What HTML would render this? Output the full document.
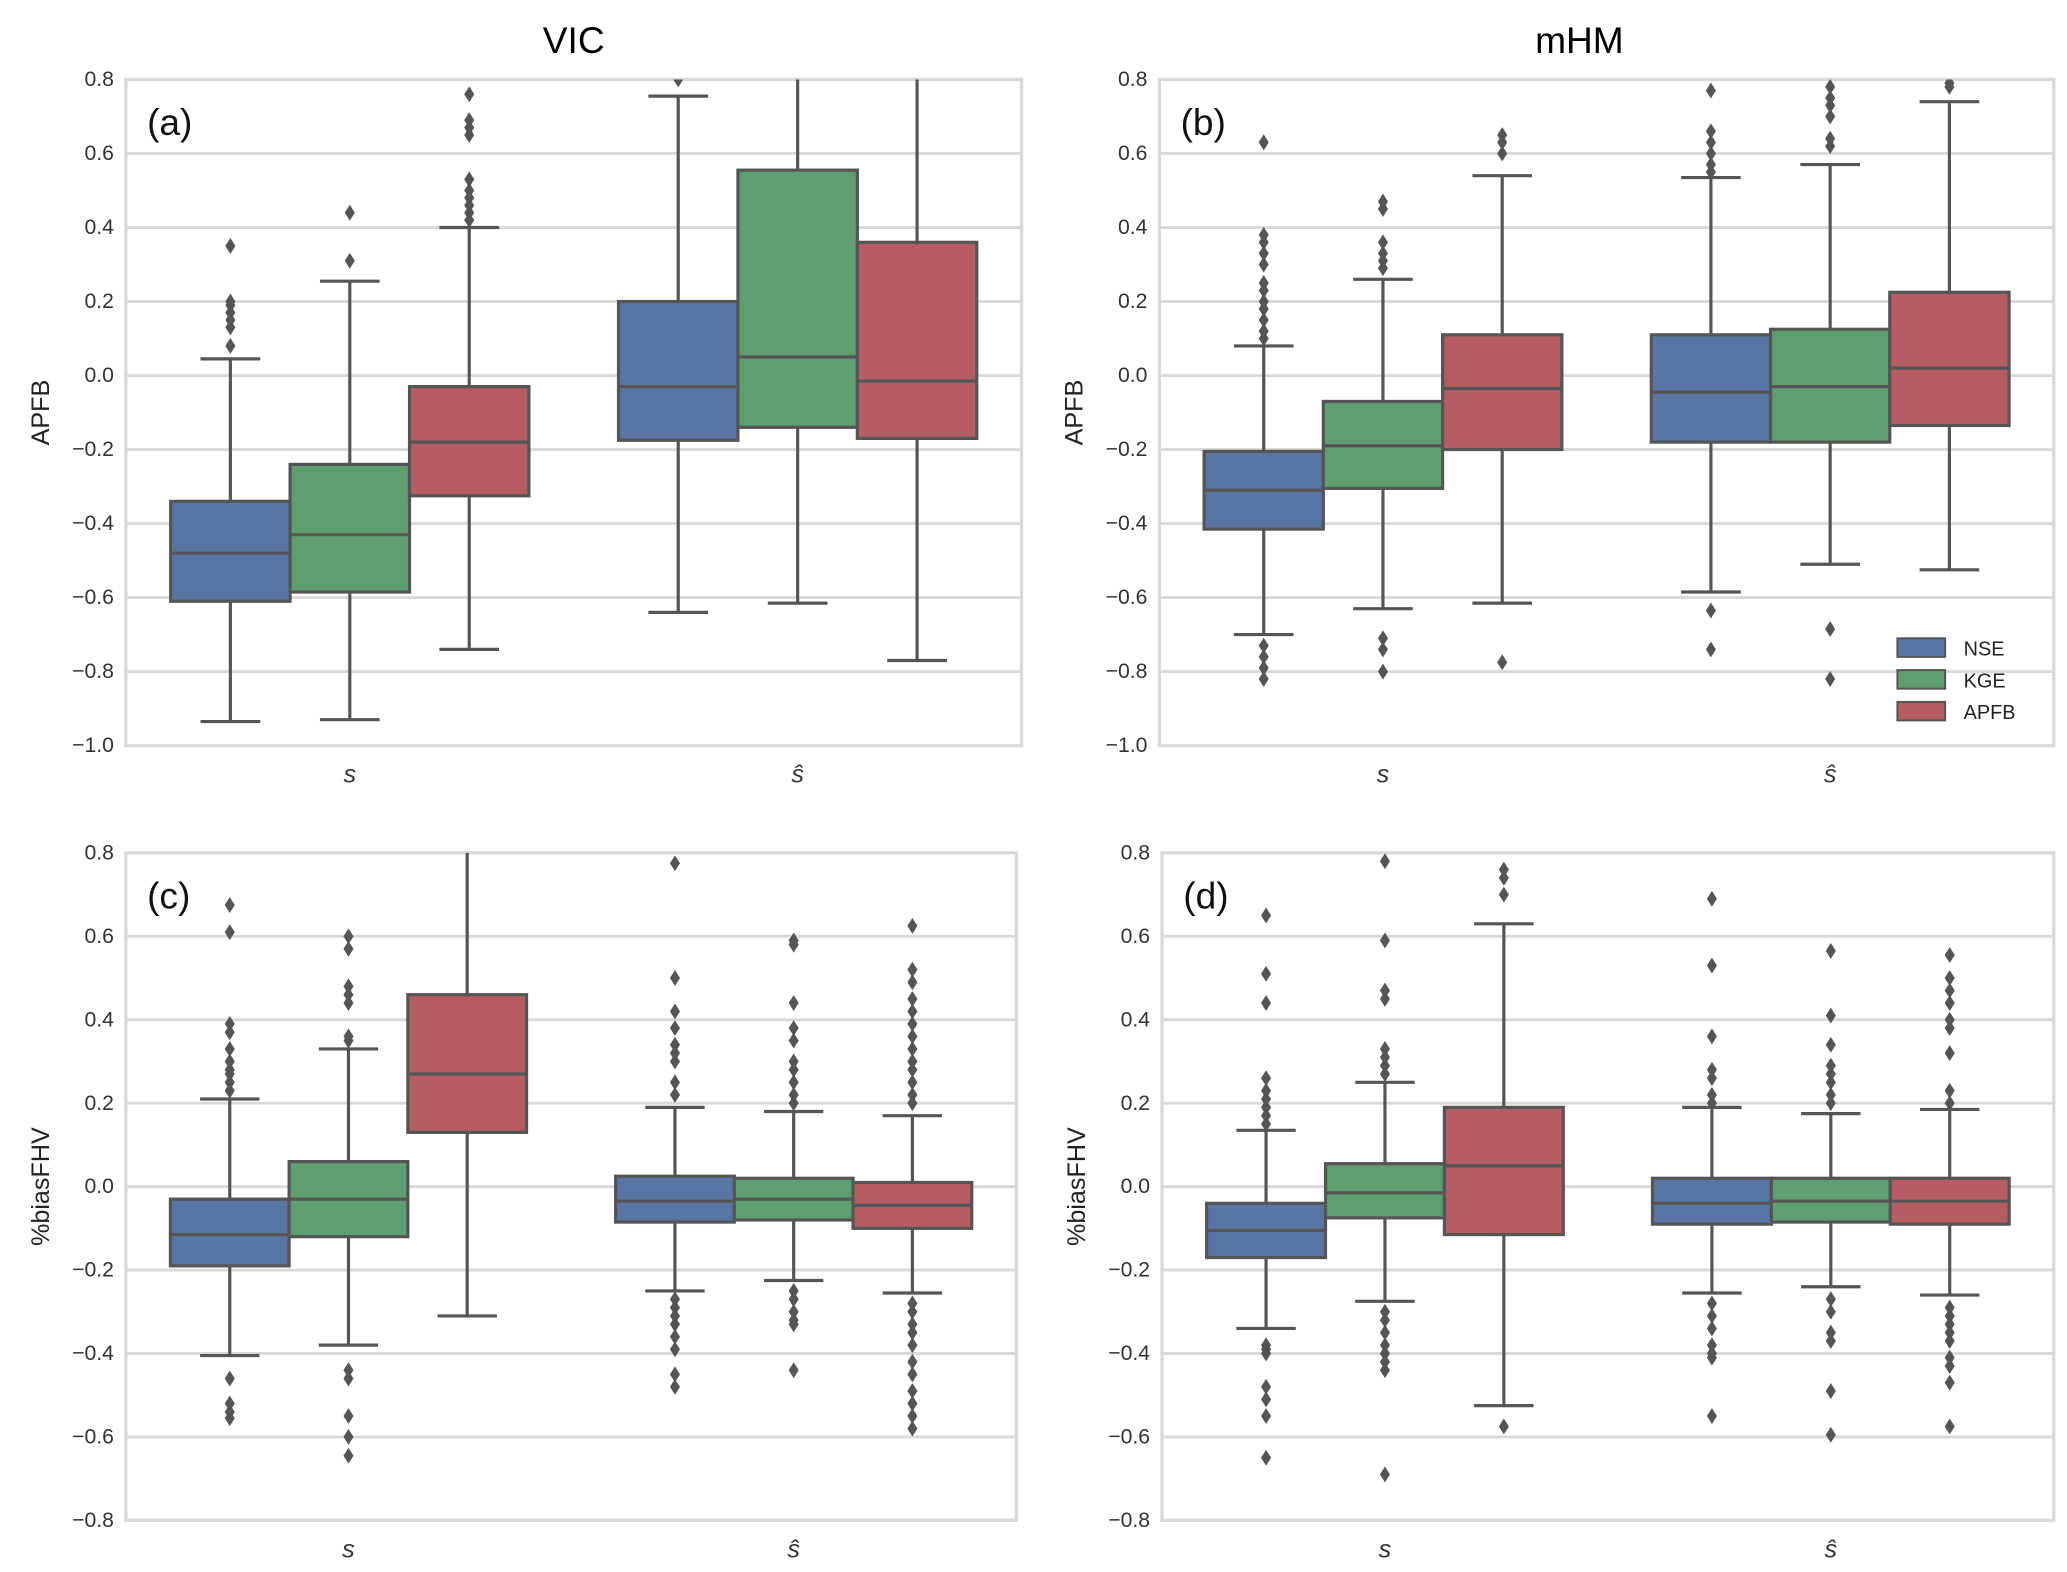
<!DOCTYPE html>
<html><head><meta charset="utf-8"><style>
html,body{margin:0;padding:0;background:#fff}
svg{display:block;font-family:"Liberation Sans",sans-serif}
</style></head><body>
<svg id="fig" width="2067" height="1572" viewBox="0 0 1560 1187" preserveAspectRatio="none">
<text x="433" y="40" font-size="28" text-anchor="middle">VIC</text>
<text x="1192" y="40" font-size="28" text-anchor="middle">mHM</text>
</svg>
<script>
// order of boxes: [s-NSE, s-KGE, s-APFB, ŝ-NSE, ŝ-KGE, ŝ-APFB]
const categories = ["s", "ŝ"];
const seriesNames = ["NSE", "KGE", "APFB"];
const yTicksTop = [0.8,0.6,0.4,0.2,0.0,-0.2,-0.4,-0.6,-0.8,-1.0];
const yTickLabelsTop = ["0.8","0.6","0.4","0.2","0.0","\u22120.2","\u22120.4","\u22120.6","\u22120.8","\u22121.0"];
const yTicksBottom = [0.8,0.6,0.4,0.2,0.0,-0.2,-0.4,-0.6,-0.8];
const yTickLabelsBottom = ["0.8","0.6","0.4","0.2","0.0","\u22120.2","\u22120.4","\u22120.6","\u22120.8"];

const aQ1 = [-0.61,-0.585,-0.325,-0.175,-0.14,-0.17];
const aMed = [-0.48,-0.43,-0.18,-0.03,0.05,-0.015];
const aQ3 = [-0.34,-0.24,-0.03,0.2,0.555,0.36];
const aLo = [-0.935,-0.93,-0.74,-0.64,-0.615,-0.77];
const aHi = [0.045,0.255,0.40,0.755,0.9,0.9];
const aOut = [[0.08,0.13,0.15,0.17,0.19,0.2,0.35],[0.31,0.44],[0.42,0.44,0.46,0.48,0.5,0.53,0.65,0.67,0.69,0.76],[0.8],[],[]];

const bQ1 = [-0.415,-0.305,-0.2,-0.18,-0.18,-0.135];
const bMed = [-0.31,-0.19,-0.035,-0.045,-0.03,0.02];
const bQ3 = [-0.205,-0.07,0.11,0.11,0.125,0.225];
const bLo = [-0.7,-0.63,-0.615,-0.585,-0.51,-0.525];
const bHi = [0.08,0.26,0.54,0.535,0.57,0.74];
const bOut = [[0.1,0.12,0.15,0.18,0.2,0.23,0.25,0.3,0.33,0.36,0.38,0.63,-0.73,-0.76,-0.79,-0.82],[0.29,0.31,0.33,0.36,0.45,0.47,-0.71,-0.74,-0.8],[0.6,0.63,0.65,-0.775],[0.55,0.57,0.6,0.63,0.66,0.77,-0.635,-0.74],[0.62,0.64,0.7,0.73,0.75,0.78,-0.685,-0.82],[0.78,0.79]];

const cQ1 = [-0.19,-0.12,0.13,-0.085,-0.08,-0.1];
const cMed = [-0.115,-0.03,0.27,-0.035,-0.03,-0.045];
const cQ3 = [-0.03,0.06,0.46,0.025,0.02,0.01];
const cLo = [-0.405,-0.38,-0.31,-0.25,-0.225,-0.255];
const cHi = [0.21,0.33,0.85,0.19,0.18,0.17];
const cOut = [[0.23,0.25,0.27,0.28,0.3,0.33,0.37,0.39,0.61,0.675,-0.46,-0.52,-0.54,-0.555],[0.35,0.36,0.44,0.46,0.48,0.57,0.6,-0.44,-0.46,-0.55,-0.6,-0.645],[],[0.22,0.25,0.3,0.32,0.34,0.38,0.42,0.5,0.775,-0.27,-0.29,-0.31,-0.33,-0.36,-0.39,-0.45,-0.48],[0.2,0.22,0.25,0.28,0.3,0.35,0.38,0.44,0.58,0.59,-0.25,-0.27,-0.3,-0.32,-0.33,-0.44],[0.2,0.22,0.25,0.28,0.3,0.33,0.36,0.39,0.42,0.45,0.49,0.52,0.625,-0.28,-0.3,-0.33,-0.35,-0.38,-0.42,-0.45,-0.49,-0.52,-0.55,-0.58]];

const dQ1 = [-0.17,-0.075,-0.115,-0.09,-0.085,-0.09];
const dMed = [-0.105,-0.015,0.05,-0.04,-0.035,-0.035];
const dQ3 = [-0.04,0.055,0.19,0.02,0.02,0.02];
const dLo = [-0.34,-0.275,-0.525,-0.255,-0.24,-0.26];
const dHi = [0.135,0.25,0.63,0.19,0.175,0.185];
const dOut = [[0.15,0.17,0.19,0.21,0.23,0.26,0.44,0.51,0.65,-0.38,-0.39,-0.4,-0.48,-0.51,-0.55,-0.65],[0.27,0.29,0.31,0.33,0.45,0.47,0.59,0.78,-0.3,-0.32,-0.35,-0.38,-0.4,-0.42,-0.44,-0.69],[0.7,0.74,0.76,-0.575],[0.2,0.22,0.26,0.28,0.36,0.53,0.69,-0.28,-0.31,-0.34,-0.38,-0.4,-0.41,-0.55],[0.2,0.22,0.25,0.27,0.29,0.34,0.41,0.565,-0.27,-0.3,-0.35,-0.37,-0.49,-0.595],[0.2,0.23,0.32,0.38,0.4,0.44,0.47,0.5,0.555,-0.29,-0.31,-0.33,-0.35,-0.37,-0.41,-0.43,-0.47,-0.575]];

const colors = ["#5875a4","#5f9e6e","#b55d60"];
const NS = "http://www.w3.org/2000/svg";
const svg = document.getElementById("fig");
function mk(tag, attrs, parent){const e=document.createElementNS(NS,tag);for(const k in attrs)e.setAttribute(k,attrs[k]);(parent||svg).appendChild(e);return e;}

const panels = [
 {id:"a",x0:95,x1:771,yTop:60,yBot:563,vmax:0.8,vmin:-1.0,ticks:yTicksTop,labels:yTickLabelsTop,ylab:"APFB",q1:aQ1,med:aMed,q3:aQ3,lo:aLo,hi:aHi,out:aOut,legend:false},
 {id:"b",x0:875,x1:1550,yTop:60,yBot:563,vmax:0.8,vmin:-1.0,ticks:yTicksTop,labels:yTickLabelsTop,ylab:"APFB",q1:bQ1,med:bMed,q3:bQ3,lo:bLo,hi:bHi,out:bOut,legend:true},
 {id:"c",x0:95,x1:767,yTop:644,yBot:1148,vmax:0.8,vmin:-0.8,ticks:yTicksBottom,labels:yTickLabelsBottom,ylab:"%biasFHV",q1:cQ1,med:cMed,q3:cQ3,lo:cLo,hi:cHi,out:cOut,legend:false},
 {id:"d",x0:877,x1:1550,yTop:644,yBot:1148,vmax:0.8,vmin:-0.8,ticks:yTicksBottom,labels:yTickLabelsBottom,ylab:"%biasFHV",q1:dQ1,med:dMed,q3:dQ3,lo:dLo,hi:dHi,out:dOut,legend:false}
];

panels.forEach(p=>{
  const g = mk("g",{});
  
  
  const cid = "clip-"+p.id;
  const cp = mk("clipPath",{id:cid},g);
  mk("rect",{x:p.x0,y:p.yTop,width:p.x1-p.x0,height:p.yBot-p.yTop},cp);
  const y = v => p.yTop + (p.vmax - v)/(p.vmax - p.vmin)*(p.yBot-p.yTop);
  const band = (p.x1-p.x0)/categories.length;
  const bw = band*0.8/3;
  const bx = i => p.x0 + band*(Math.floor(i/3)+0.5) + bw*((i%3)-1.5);
  p.ticks.forEach((t,k)=>{
    const gl = mk("line",{x1:p.x0,x2:p.x1,y1:y(t),y2:y(t),stroke:"#d9d9d9","stroke-width":2.2},g);
    
    
    const tl = mk("text",{x:p.x0-9,y:y(t)+5,"font-size":16,"text-anchor":"end",fill:"#333"},g);
    tl.textContent = p.labels[k];
    
    
  });
  const frame = mk("rect",{x:p.x0,y:p.yTop,width:p.x1-p.x0,height:p.yBot-p.yTop,fill:"none",stroke:"#d9d9d9","stroke-width":2.5},g);
  
  
  const inner = mk("g",{"clip-path":"url(#"+cid+")"},g);
  for(let i=0;i<6;i++){
    const x=bx(i), cx=x+bw/2, col=colors[i%3];
    const wl = mk("line",{x1:cx,x2:cx,y1:y(p.lo[i]),y2:y(p.hi[i]),stroke:"#555","stroke-width":2.4},inner);
    
    
    [p.lo[i],p.hi[i]].forEach(v=>{
      const cap = mk("line",{x1:cx-bw/4,x2:cx+bw/4,y1:y(v),y2:y(v),stroke:"#555","stroke-width":2.4},inner);
      
      
    });
    const box = mk("rect",{x:x,y:y(p.q3[i]),width:bw,height:y(p.q1[i])-y(p.q3[i]),fill:col,stroke:"#555","stroke-width":2.4},inner);
    
    
    const md = mk("line",{x1:x,x2:x+bw,y1:y(p.med[i]),y2:y(p.med[i]),stroke:"#555","stroke-width":2.4},inner);
    
    
    p.out[i].forEach(v=>{
      const yy=y(v);
      const o = mk("polygon",{points:`${cx},${yy-6} ${cx+3.8},${yy} ${cx},${yy+6} ${cx-3.8},${yy}`,fill:"#555"},inner);
      
      
    });
  }
  categories.forEach((c,k)=>{
    const t = mk("text",{x:p.x0+band*(k+0.5),y:p.yBot+28,"font-size":19,"font-style":"italic","text-anchor":"middle",fill:"#333"},g);
    t.textContent = c;
    
    
  });
  const yl = mk("text",{x:0,y:0,"font-size":19,"text-anchor":"middle",fill:"#222",transform:`translate(${p.x0-58},${(p.yTop+p.yBot)/2}) rotate(-90)`},g);
  yl.textContent = p.ylab;
  
  
  const pl = mk("text",{x:p.x0+16,y:p.yTop+42,"font-size":28,fill:"#111"},g);
  pl.textContent = "("+p.id+")";
  
  
  if(p.legend){
    seriesNames.forEach((n,k)=>{
      const ly = 482+k*24;
      const lr = mk("rect",{x:1432,y:ly,width:36,height:14,fill:colors[k],stroke:"#555","stroke-width":1.5},g);
      
      
      const lt = mk("text",{x:1482,y:ly+13,"font-size":15,fill:"#222"},g);
      lt.textContent = n;
      
      
    });
  }
});
</script>
</body></html>
